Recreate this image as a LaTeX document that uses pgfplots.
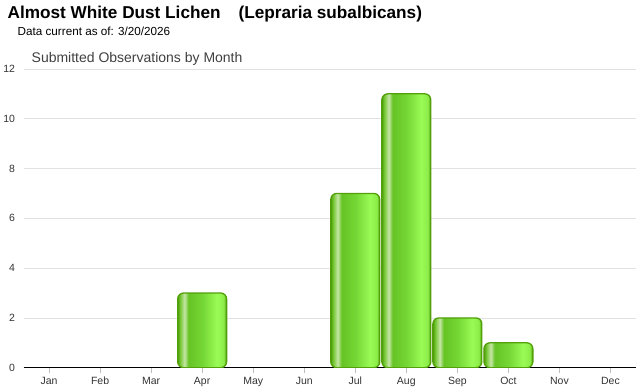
\documentclass[border=0pt]{standalone}
\usepackage{pgfplots}
\pgfplotsset{compat=1.18}
\usepackage{fontspec}
\setmainfont{Liberation Sans}
\definecolor{c0}{HTML}{4E9E0C}
\definecolor{c1}{HTML}{76C834}
\definecolor{c2}{HTML}{C6E6A6}
\definecolor{c3}{HTML}{66C424}
\definecolor{c4}{HTML}{74D634}
\definecolor{c5}{HTML}{9AFA56}
\definecolor{c6}{HTML}{8CEC48}
\definecolor{c7}{HTML}{4A9A00}
\definecolor{barline}{HTML}{52A00A}
\definecolor{gridc}{HTML}{E2E2E2}
\pgfdeclarehorizontalshading{barshade}{100bp}{color(0bp)=(c0); color(25bp)=(c0); color(27.5bp)=(c1); color(32bp)=(c2); color(36bp)=(c3); color(50bp)=(c4); color(65bp)=(c5); color(72bp)=(c6); color(75bp)=(c7); color(100bp)=(c7)}
\pgfplotsset{barstyle/.style={ybar, bar width=49bp, bar shift=0pt, draw=barline, line width=1.3bp, shading=barshade, rounded corners=6bp, mark=none}}
\begin{document}
\begin{tikzpicture}[x=1bp,y=1bp]
\path (0,0) rectangle (640,390);
\node[anchor=base west, inner sep=0, font=\fontsize{17.2bp}{19bp}\selectfont\bfseries] at (7,371) {Almost White Dust Lichen\hspace{18bp}(Lepraria subalbicans)};
\node[anchor=base west, inner sep=0, font=\fontsize{11.7bp}{14bp}\selectfont] at (17,354) {Data current as of: 3/20/2026};
\node[anchor=base west, inner sep=0, font=\fontsize{14bp}{16bp}\selectfont, text=black!75] at (31,327) {Submitted Observations by Month};
\begin{axis}[
  at={(23bp,22bp)}, anchor=south west,
  scale only axis, width=613bp, height=299bp,
  xmin=-0.5, xmax=11.5, ymin=0, ymax=12,
  xtick={0,...,11},
  xticklabels={Jan,Feb,Mar,Apr,May,Jun,Jul,Aug,Sep,Oct,Nov,Dec},
  ytick={0,2,...,12},
  axis lines*=left,
  x axis line style={-, black, line width=1.5bp},
  y axis line style={draw=none},
  ymajorgrids, grid style={gridc, line width=0.8bp},
  tick align=outside, major tick length=5bp,
  xtick style={draw=black!25},
  ytick style={draw=none},
  xticklabel style={font=\fontsize{10.5bp}{12bp}\selectfont, text=black!80, yshift=-1bp},
  yticklabel style={font=\fontsize{10.5bp}{12bp}\selectfont, text=black!80},
  /pgf/number format/assume math mode=true,
]
\addplot[barstyle] coordinates {(3,3)};
\addplot[barstyle] coordinates {(6,7)};
\addplot[barstyle] coordinates {(7,11)};
\addplot[barstyle] coordinates {(8,2)};
\addplot[barstyle] coordinates {(9,1)};
\end{axis}
\end{tikzpicture}
\end{document}
